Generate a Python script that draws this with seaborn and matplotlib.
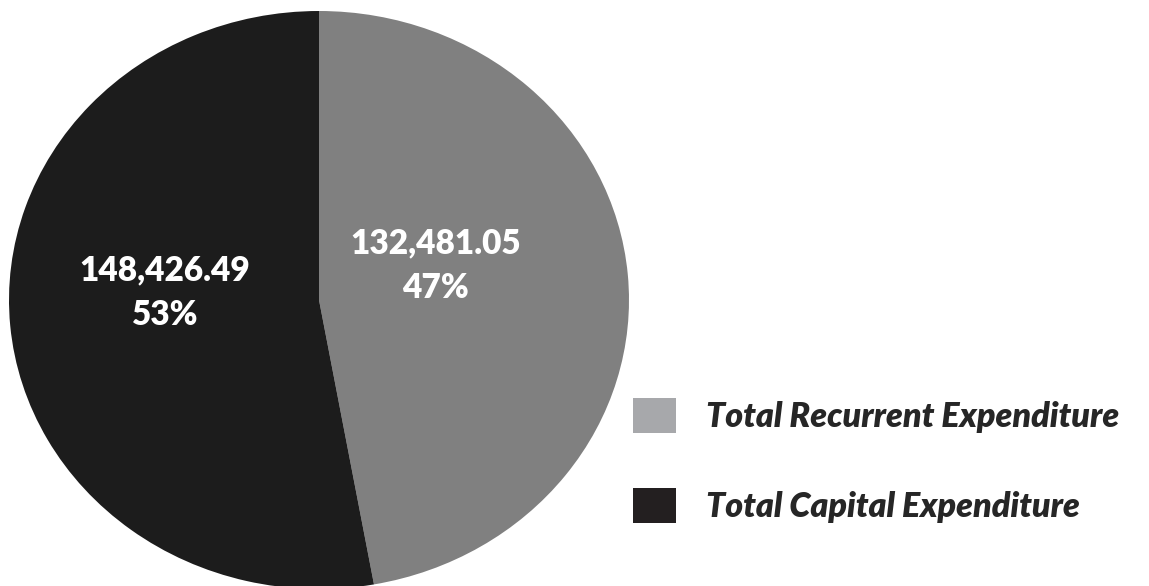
import matplotlib
matplotlib.use("Agg")
import matplotlib.pyplot as plt
import matplotlib.patches as mpatches
import seaborn as sns

# Expenditure split
categories = ["Total Recurrent Expenditure", "Total Capital Expenditure"]
values = [132481.05, 148426.49]

sns.set_theme(style="white")
plt.rcParams["font.family"] = ["Lato", "DejaVu Sans"]

wedge_colors = ["#808080", "#1c1c1c"]
legend_colors = ["#a7a8ab", "#231f20"]

fig = plt.figure(figsize=(11.49, 5.86), dpi=100)
ax = fig.add_axes([9 / 1149, -3 / 586, 620 / 1149, 578 / 586])

ax.pie(values, colors=wedge_colors, startangle=90, counterclock=False,
       wedgeprops=dict(linewidth=0))
ax.set_aspect("auto")
ax.set_xlim(-1, 1)
ax.set_ylim(-1, 1)
ax.axis("off")

total = sum(values)
label_pos = [(0.377, 0.119), (-0.497, 0.025)]
for v, (x, y) in zip(values, label_pos):
    ax.text(x, y, f"{v:,.2f}\n{v / total:.0%}", color="white", fontsize=24,
            fontweight="heavy", ha="center", va="center", linespacing=1.47)

handles = [mpatches.Patch(facecolor=c, edgecolor="none") for c in legend_colors]
fig.legend(handles, categories, loc="upper left", bbox_to_anchor=(626 / 1149, 1 - 391 / 586),
           frameon=False, handlelength=1.26, handleheight=1.2, handletextpad=0.9,
           labelspacing=1.62, borderpad=0.2, borderaxespad=0,
           prop=dict(family=["Lato", "DejaVu Sans"], size=24.5, weight="heavy", style="italic"))

fig.savefig("out.png", dpi=100)
